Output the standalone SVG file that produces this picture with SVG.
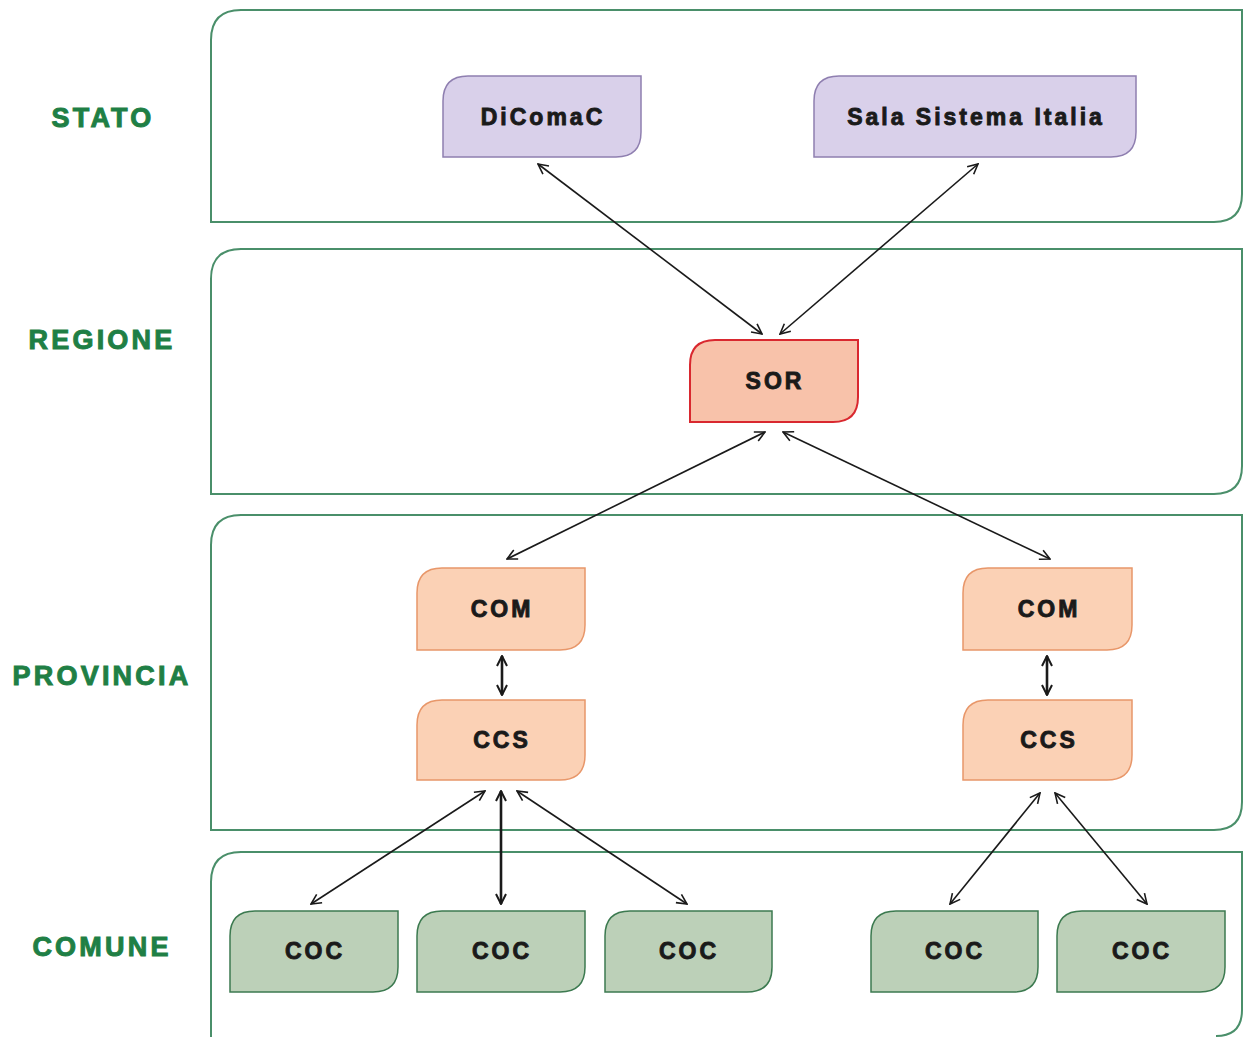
<svg xmlns="http://www.w3.org/2000/svg" width="1244" height="1037" viewBox="0 0 1244 1037">
<style>
.panel{fill:#ffffff;stroke:#4a8f6a;stroke-width:2}
.lvl{font-family:"Liberation Sans",Arial,sans-serif;font-weight:bold;font-size:27px;fill:#1f7f45;stroke:#1f7f45;stroke-width:1;text-anchor:middle;letter-spacing:3.2px}
.t{font-family:"Liberation Sans",Arial,sans-serif;font-weight:bold;font-size:23px;fill:#1a1a1a;stroke:#1a1a1a;stroke-width:0.9;text-anchor:middle;letter-spacing:3px}
.stato{fill:#d9d0ea;stroke:#8f7fb0;stroke-width:1.5}
.sor{fill:#f8c2aa;stroke:#d9282f;stroke-width:2}
.prov{fill:#fbd1b5;stroke:#e8976a;stroke-width:1.5}
.com{fill:#bcd0b8;stroke:#3c7a50;stroke-width:1.5}
.c{stroke:#1a1a1a;stroke-width:1.6;fill:none;marker-start:url(#ah);marker-end:url(#ah)}
.ct{stroke:#1a1a1a;stroke-width:2.6;fill:none;marker-start:url(#ah2);marker-end:url(#ah2)}
</style>
<defs>
<marker id="ah" viewBox="0 0 12 12" refX="11" refY="6" markerWidth="12" markerHeight="12" markerUnits="userSpaceOnUse" orient="auto-start-reverse">
<path d="M1,1 L11,6 L1,11" fill="none" stroke="#1a1a1a" stroke-width="1.6"/>
</marker>
<marker id="ah2" viewBox="0 0 12 12" refX="11" refY="6" markerWidth="12" markerHeight="12" markerUnits="userSpaceOnUse" orient="auto-start-reverse">
<path d="M1,1 L11,6 L1,11" fill="none" stroke="#1a1a1a" stroke-width="2"/>
</marker>
</defs>
<rect width="1244" height="1037" fill="#ffffff"/>
<g id="panels">
<path class="panel" d="M211,222 V40 Q211,10 241,10 H1242 V194 Q1242,222 1214,222 Z"/>
<path class="panel" d="M211,494 V279 Q211,249 241,249 H1242 V466 Q1242,494 1214,494 Z"/>
<path class="panel" d="M211,830 V545 Q211,515 241,515 H1242 V802 Q1242,830 1214,830 Z"/>
<path class="panel" d="M211,1045 V882 Q211,852 241,852 H1242 V1010 Q1242,1036 1216,1036"/>
</g>
<g id="labels">
<text class="lvl" x="103" y="127">STATO</text>
<text class="lvl" x="102" y="349">REGIONE</text>
<text class="lvl" x="102" y="685">PROVINCIA</text>
<text class="lvl" x="102" y="956">COMUNE</text>
</g>
<g id="connectors">
<line class="c" x1="538" y1="164" x2="762" y2="334"/>
<line class="c" x1="978" y1="164" x2="780" y2="334"/>
<line class="c" x1="765" y1="432" x2="507" y2="559"/>
<line class="c" x1="783" y1="432" x2="1050" y2="559"/>
<line class="ct" x1="502" y1="656" x2="502" y2="695"/>
<line class="ct" x1="1047" y1="656" x2="1047" y2="695"/>
<line class="c" x1="485" y1="791" x2="311" y2="904"/>
<line class="ct" x1="501" y1="791" x2="501" y2="904"/>
<line class="c" x1="517" y1="791" x2="687" y2="904"/>
<line class="c" x1="1040" y1="793" x2="950" y2="904"/>
<line class="c" x1="1055" y1="793" x2="1147" y2="904"/>
</g>
<g id="n-dicomac"><path class="stato" d="M443,157 V101 C443,86 450,76 468,76 H641 V132 C641,147 634,157 616,157 Z"/><text class="t" x="543" y="125">DiComaC</text></g>
<g id="n-sala"><path class="stato" d="M814,157 V101 C814,86 821,76 839,76 H1136 V132 C1136,147 1129,157 1111,157 Z"/><text class="t" x="976" y="125">Sala Sistema Italia</text></g>
<g id="n-sor"><path class="sor" d="M690,422 V365 C690,350 697,340 715,340 H858 V397 C858,412 851,422 833,422 Z"/><text class="t" x="775" y="389">SOR</text></g>
<g id="n-com1"><path class="prov" d="M417,650 V593 C417,578 424,568 442,568 H585 V625 C585,640 578,650 560,650 Z"/><text class="t" x="502" y="617">COM</text></g>
<g id="n-ccs1"><path class="prov" d="M417,780 V725 C417,710 424,700 442,700 H585 V755 C585,770 578,780 560,780 Z"/><text class="t" x="502" y="748">CCS</text></g>
<g id="n-com2"><path class="prov" d="M963,650 V593 C963,578 970,568 988,568 H1132 V625 C1132,640 1125,650 1107,650 Z"/><text class="t" x="1049" y="617">COM</text></g>
<g id="n-ccs2"><path class="prov" d="M963,780 V725 C963,710 970,700 988,700 H1132 V755 C1132,770 1125,780 1107,780 Z"/><text class="t" x="1049" y="748">CCS</text></g>
<g id="n-coc1"><path class="com" d="M230,992 V936 C230,921 237,911 255,911 H398 V967 C398,982 391,992 373,992 Z"/><text class="t" x="315" y="959">COC</text></g>
<g id="n-coc2"><path class="com" d="M417,992 V936 C417,921 424,911 442,911 H585 V967 C585,982 578,992 560,992 Z"/><text class="t" x="502" y="959">COC</text></g>
<g id="n-coc3"><path class="com" d="M605,992 V936 C605,921 612,911 630,911 H772 V967 C772,982 765,992 747,992 Z"/><text class="t" x="689" y="959">COC</text></g>
<g id="n-coc4"><path class="com" d="M871,992 V936 C871,921 878,911 896,911 H1038 V967 C1038,982 1031,992 1013,992 Z"/><text class="t" x="955" y="959">COC</text></g>
<g id="n-coc5"><path class="com" d="M1057,992 V936 C1057,921 1064,911 1082,911 H1225 V967 C1225,982 1218,992 1200,992 Z"/><text class="t" x="1142" y="959">COC</text></g>
</svg>
